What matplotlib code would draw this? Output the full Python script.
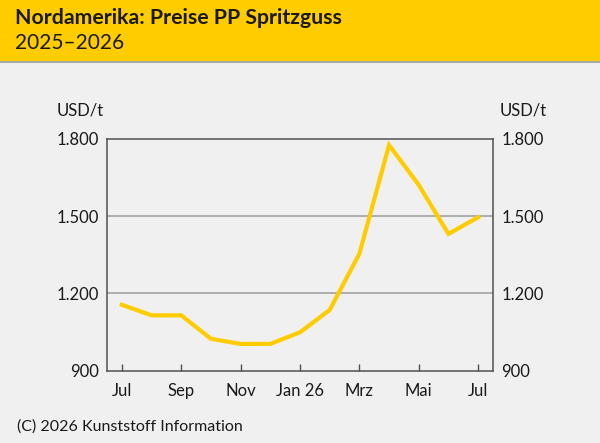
import matplotlib
matplotlib.use("Agg")
from matplotlib import pyplot as plt
from matplotlib.patches import Rectangle

# monthly prices, Jul 2025 .. Jul 2026
months = ["Jul", "Aug", "Sep", "Okt", "Nov", "Dez", "Jan 26", "Feb",
          "Mrz", "Apr", "Mai", "Jun", "Jul"]
prices = [1156, 1115, 1115, 1024, 1004, 1004, 1049, 1136,
          1354, 1776, 1621, 1431, 1496]
tick_labels = ["Jul", "Sep", "Nov", "Jan 26", "Mrz", "Mai", "Jul"]
y_ticks = [900, 1200, 1500, 1800]

title = "Nordamerika: Preise PP Spritzguss"
subtitle = "2025\u20132026"
source = "(C) 2026 Kunststoff Information"

plt.rcParams['font.family'] = ['Lato', 'DejaVu Sans']

W, H = 600, 443
fig = plt.figure(figsize=(W / 100, H / 100), dpi=100)
fig.patch.set_facecolor("#f0f0f0")

# yellow header band
fig.patches.append(Rectangle((0, 1 - 61 / H), 1, 61 / H, transform=fig.transFigure,
                             facecolor="#ffcc00", edgecolor="none", zorder=0))
fig.patches.append(Rectangle((0, 1 - 63 / H), 1, 2 / H, transform=fig.transFigure,
                             facecolor="#a8a8a8", edgecolor="none", zorder=0))
fig.text(15 / W, 1 - 18 / H, title, fontsize=15.3, fontweight="bold",
         color="#1a1a1a", va="center", ha="left")
fig.text(15 / W, 1 - 43 / H, subtitle, fontsize=15, color="#1a1a1a",
         va="center", ha="left")

left, right = 107 / W, 493 / W
bottom, top = 1 - 370.7 / H, 1 - 138.9 / H
ax = fig.add_axes([left, bottom, right - left, top - bottom])
ax.set_facecolor("#f0f0f0")

x = list(range(len(months)))
ax.plot(x, prices, color="#ffcc00", lw=3.0, solid_joinstyle="miter", zorder=3)

ax.set_xlim(-0.5, len(months) - 0.5)
ax.set_ylim(900, 1800)
ax.set_xticks(x[::2])
ax.set_xticklabels(tick_labels)
ax.set_yticks(y_ticks)
ax.set_yticklabels([f"{v:,}".replace(",", ".") for v in y_ticks])

for v in y_ticks[1:-1]:
    ax.axhline(v, color="#9a9a9a", lw=1.1, zorder=1)

for s in ax.spines.values():
    s.set_color("#505050")
    s.set_linewidth(1.1)

ax.tick_params(axis="x", direction="in", length=5, width=1.0, color="#505050",
               labelsize=12, labelcolor="#1a1a1a", pad=9)
ax.tick_params(axis="y", length=0, labelsize=12, labelcolor="#1a1a1a",
               pad=6, labelright=True, right=False)

fig.text(57 / W, 1 - 110 / H, "USD/t", fontsize=12, color="#1a1a1a",
         va="center", ha="left")
fig.text(500 / W, 1 - 110 / H, "USD/t", fontsize=12, color="#1a1a1a",
         va="center", ha="left")
fig.text(17 / W, 1 - 427 / H, source, fontsize=11.5, color="#1a1a1a",
         va="center", ha="left")

fig.savefig("out.png", dpi=100, facecolor=fig.get_facecolor())
